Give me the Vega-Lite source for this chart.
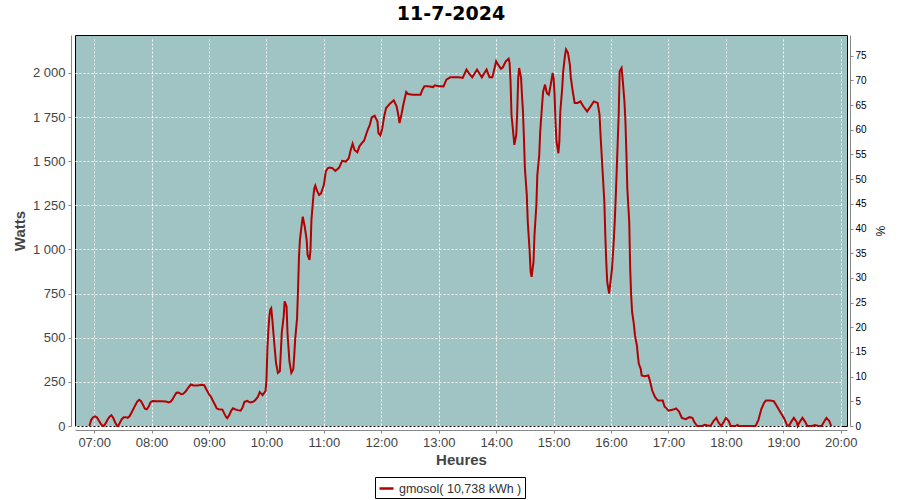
{
  "$schema": "https://vega.github.io/schema/vega-lite/v6.json",
  "autosize": {"type": "none"},
  "width": 772,
  "height": 391,
  "padding": {"left": 75, "top": 35, "right": 53, "bottom": 74},
  "background": "white",
  "title": {"text": "11-7-2024", "font": "DejaVu Sans", "fontSize": 19, "fontWeight": "bold", "color": "black", "anchor": "middle", "frame": "group", "dx": -10, "offset": 11},
  "config": {
    "view": {"fill": "#a0c4c4", "stroke": "black", "strokeWidth": 1},
    "axis": {"labelFont": "Liberation Sans", "labelFontSize": 13, "labelColor": "#444444", "titleFont": "Liberation Sans", "titleFontSize": 15, "titleFontWeight": "bold", "titleColor": "#444444", "domainColor": "#888888", "tickColor": "#888888", "tickSize": 3, "offset": 4, "gridColor": "white", "gridDash": [2, 2], "gridWidth": 1, "gridOpacity": 1}
  },
  "layer": [
    {
      "data": {"values": [
        {"m":415,"w":0},{"m":416,"w":18},{"m":417,"w":35},{"m":419,"w":50},{"m":421,"w":55},{"m":423,"w":48},{"m":425,"w":30},{"m":427,"w":12},{"m":429,"w":0},{"m":430,"w":0},
        {"m":432,"w":15},{"m":434,"w":35},{"m":436,"w":52},{"m":438,"w":61},{"m":440,"w":45},{"m":442,"w":20},{"m":444,"w":0},{"m":445,"w":0},{"m":447,"w":20},{"m":449,"w":40},
        {"m":451,"w":50},{"m":453,"w":50},{"m":455,"w":46},{"m":457,"w":55},{"m":459,"w":75},{"m":461,"w":96},{"m":463,"w":118},{"m":465,"w":138},{"m":467,"w":148},{"m":469,"w":140},
        {"m":471,"w":120},{"m":473,"w":98},{"m":475,"w":95},{"m":477,"w":110},{"m":479,"w":135},{"m":481,"w":142},{"m":485,"w":140},{"m":490,"w":140},{"m":495,"w":139},{"m":498,"w":133},
        {"m":500,"w":138},{"m":502,"w":152},{"m":504,"w":172},{"m":506,"w":189},{"m":508,"w":190},{"m":511,"w":180},{"m":513,"w":182},{"m":516,"w":198},{"m":518,"w":215},{"m":521,"w":235},
        {"m":524,"w":230},{"m":528,"w":230},{"m":532,"w":233},{"m":535,"w":231},{"m":537,"w":210},{"m":540,"w":180},{"m":542,"w":165},{"m":545,"w":133},{"m":547,"w":112},{"m":548,"w":100},
        {"m":550,"w":95},{"m":554,"w":93},{"m":556,"w":70},{"m":558,"w":50},{"m":559,"w":44},{"m":561,"w":60},{"m":563,"w":85},{"m":565,"w":100},{"m":567,"w":95},{"m":570,"w":90},
        {"m":573,"w":87},{"m":575,"w":105},{"m":577,"w":137},{"m":580,"w":142},{"m":583,"w":133},{"m":586,"w":137},{"m":588,"w":145},{"m":591,"w":165},{"m":593,"w":192},{"m":596,"w":175},
        {"m":598,"w":190},{"m":599,"w":197},{"m":600,"w":257},{"m":601,"w":436},{"m":602,"w":540},{"m":603,"w":620},{"m":604,"w":660},{"m":605,"w":668},{"m":606,"w":611},{"m":608,"w":480},
        {"m":610,"w":357},{"m":612,"w":301},{"m":614,"w":310},{"m":616,"w":527},{"m":618,"w":621},{"m":619,"w":706},{"m":621,"w":677},{"m":622,"w":527},{"m":624,"w":367},{"m":626,"w":301},
        {"m":628,"w":320},{"m":629,"w":395},{"m":630,"w":489},{"m":632,"w":611},{"m":633,"w":772},{"m":634,"w":960},{"m":635,"w":1054},{"m":637,"w":1148},{"m":638,"w":1186},{"m":640,"w":1129},
        {"m":642,"w":1054},{"m":643,"w":969},{"m":645,"w":941},{"m":646,"w":998},{"m":647,"w":1167},{"m":649,"w":1299},{"m":650,"w":1347},{"m":651,"w":1362},{"m":653,"w":1330},{"m":655,"w":1309},
        {"m":657,"w":1318},{"m":660,"w":1366},{"m":662,"w":1441},{"m":664,"w":1460},{"m":666,"w":1464},{"m":669,"w":1460},{"m":672,"w":1445},{"m":676,"w":1464},{"m":679,"w":1502},{"m":683,"w":1498},
        {"m":686,"w":1517},{"m":688,"w":1564},{"m":690,"w":1599},{"m":692,"w":1564},{"m":695,"w":1551},{"m":697,"w":1583},{"m":700,"w":1605},{"m":702,"w":1616},{"m":704,"w":1650},{"m":706,"w":1680},
        {"m":708,"w":1706},{"m":710,"w":1748},{"m":713,"w":1758},{"m":716,"w":1725},{"m":717,"w":1659},{"m":719,"w":1646},{"m":721,"w":1687},{"m":723,"w":1754},{"m":725,"w":1801},{"m":729,"w":1826},
        {"m":731,"w":1836},{"m":733,"w":1845},{"m":736,"w":1811},{"m":738,"w":1754},{"m":739,"w":1716},{"m":741,"w":1763},{"m":743,"w":1820},{"m":746,"w":1892},{"m":748,"w":1881},{"m":753,"w":1877},
        {"m":761,"w":1877},{"m":763,"w":1905},{"m":765,"w":1924},{"m":769,"w":1924},{"m":774,"w":1920},{"m":776,"w":1930},{"m":780,"w":1925},{"m":785,"w":1924},{"m":788,"w":1962},{"m":792,"w":1975},
        {"m":801,"w":1975},{"m":805,"w":1972},{"m":809,"w":2019},{"m":812,"w":1994},{"m":815,"w":1975},{"m":820,"w":2019},{"m":825,"w":1975},{"m":830,"w":2019},{"m":833,"w":1975},{"m":836,"w":1975},
        {"m":840,"w":2066},{"m":842,"w":2047},{"m":845,"w":2023},{"m":847,"w":2032},{"m":850,"w":2066},{"m":853,"w":2081},{"m":854,"w":2057},{"m":855,"w":1953},{"m":856,"w":1763},{"m":858,"w":1650},
        {"m":859,"w":1593},{"m":861,"w":1650},{"m":862,"w":1782},{"m":863,"w":1972},{"m":864,"w":2028},{"m":866,"w":1972},{"m":867,"w":1870},{"m":868,"w":1782},{"m":869,"w":1631},{"m":870,"w":1460},
        {"m":872,"w":1309},{"m":873,"w":1157},{"m":875,"w":987},{"m":876,"w":873},{"m":877,"w":845},{"m":879,"w":930},{"m":880,"w":1081},{"m":882,"w":1252},{"m":883,"w":1422},{"m":885,"w":1536},
        {"m":886,"w":1669},{"m":888,"w":1820},{"m":889,"w":1892},{"m":891,"w":1934},{"m":893,"w":1886},{"m":895,"w":1877},{"m":897,"w":1934},{"m":899,"w":2000},{"m":900,"w":1972},{"m":901,"w":1877},
        {"m":902,"w":1725},{"m":903,"w":1612},{"m":905,"w":1545},{"m":906,"w":1612},{"m":907,"w":1782},{"m":909,"w":1915},{"m":910,"w":2009},{"m":912,"w":2104},{"m":913,"w":2133},{"m":915,"w":2114},
        {"m":917,"w":2047},{"m":918,"w":1972},{"m":920,"w":1896},{"m":922,"w":1830},{"m":925,"w":1830},{"m":928,"w":1839},{"m":931,"w":1811},{"m":935,"w":1782},{"m":938,"w":1805},{"m":942,"w":1839},
        {"m":946,"w":1830},{"m":948,"w":1763},{"m":949,"w":1650},{"m":951,"w":1460},{"m":953,"w":1271},{"m":954,"w":1081},{"m":955,"w":930},{"m":956,"w":816},{"m":958,"w":750},{"m":959,"w":797},
        {"m":961,"w":892},{"m":963,"w":1062},{"m":964,"w":1176},{"m":965,"w":1309},{"m":967,"w":1612},{"m":968,"w":1763},{"m":969,"w":2009},{"m":971,"w":2028},{"m":972,"w":1972},{"m":974,"w":1839},
        {"m":975,"w":1725},{"m":976,"w":1555},{"m":977,"w":1347},{"m":979,"w":1157},{"m":980,"w":892},{"m":981,"w":741},{"m":982,"w":646},{"m":984,"w":570},{"m":985,"w":513},{"m":987,"w":456},
        {"m":988,"w":400},{"m":989,"w":352},{"m":991,"w":324},{"m":992,"w":286},{"m":995,"w":282},{"m":999,"w":286},{"m":1001,"w":248},{"m":1003,"w":201},{"m":1006,"w":163},{"m":1009,"w":144},
        {"m":1014,"w":144},{"m":1016,"w":109},{"m":1018,"w":100},{"m":1020,"w":87},{"m":1023,"w":91},{"m":1025,"w":93},{"m":1028,"w":100},{"m":1031,"w":82},{"m":1034,"w":46},{"m":1038,"w":39},
        {"m":1042,"w":50},{"m":1045,"w":46},{"m":1047,"w":22},{"m":1050,"w":0},{"m":1055,"w":0},{"m":1058,"w":7},{"m":1060,"w":4},{"m":1064,"w":0},{"m":1067,"w":28},{"m":1070,"w":46},
        {"m":1072,"w":22},{"m":1075,"w":0},{"m":1078,"w":26},{"m":1080,"w":46},{"m":1083,"w":28},{"m":1085,"w":0},{"m":1090,"w":0},{"m":1092,"w":6},{"m":1094,"w":0},{"m":1111,"w":0},
        {"m":1114,"w":35},{"m":1117,"w":96},{"m":1120,"w":133},{"m":1122,"w":145},{"m":1126,"w":145},{"m":1130,"w":141},{"m":1133,"w":115},{"m":1136,"w":87},{"m":1139,"w":59},{"m":1141,"w":41},
        {"m":1144,"w":4},{"m":1146,"w":0},{"m":1148,"w":22},{"m":1151,"w":46},{"m":1154,"w":22},{"m":1155,"w":0},{"m":1157,"w":22},{"m":1160,"w":46},{"m":1163,"w":22},{"m":1165,"w":0},
        {"m":1170,"w":0},{"m":1173,"w":6},{"m":1176,"w":2},{"m":1180,"w":0},{"m":1183,"w":28},{"m":1185,"w":46},{"m":1188,"w":28},{"m":1190,"w":0}
      ]},
      "mark": {"type": "line", "strokeWidth": 2},
      "encoding": {
        "x": {"field": "m", "type": "quantitative",
          "scale": {"domain": [400, 1206.5], "nice": false, "zero": false},
          "axis": {"title": "Heures", "values": [420, 480, 540, 600, 660, 720, 780, 840, 900, 960, 1020, 1080, 1140, 1200], "labelExpr": "(datum.value < 600 ? '0' : '') + floor(datum.value / 60) + ':00'", "labelPadding": 3, "titlePadding": 3, "labelFlush": false}},
        "y": {"field": "w", "type": "quantitative",
          "scale": {"domain": [0, 2215], "nice": false, "zero": true},
          "axis": {"title": "Watts", "values": [0, 250, 500, 750, 1000, 1250, 1500, 1750, 2000], "labelExpr": "replace(format(datum.value, ','), ',', ' ')", "labelPadding": 3, "titlePadding": 5}},
        "color": {"datum": "gmosol( 10,738 kWh )", "type": "nominal",
          "scale": {"range": ["#b40000"]},
          "legend": {"title": null, "orient": "none", "legendX": 300, "legendY": 442, "strokeColor": "black", "fillColor": "white", "padding": 3, "symbolType": "stroke", "symbolSize": 196, "symbolStrokeWidth": 2.5, "labelFont": "Liberation Sans", "labelFontSize": 12.5, "labelColor": "#333333", "labelOffset": 4}}
      }
    },
    {
      "data": {"values": [{"p": 0}]},
      "mark": {"type": "point", "opacity": 0},
      "encoding": {
        "y": {"field": "p", "type": "quantitative",
          "scale": {"domain": [0, 79.2], "nice": false},
          "axis": {"orient": "right", "title": "%", "grid": false, "values": [0, 5, 10, 15, 20, 25, 30, 35, 40, 45, 50, 55, 60, 65, 70, 75], "labelFontSize": 10, "labelColor": "black", "offset": 3, "labelPadding": 2, "titleFontWeight": "normal", "titleFontSize": 12, "titleColor": "black", "titlePadding": 6}}
      }
    }
  ],
  "resolve": {"scale": {"y": "independent"}, "axis": {"y": "independent"}}
}
